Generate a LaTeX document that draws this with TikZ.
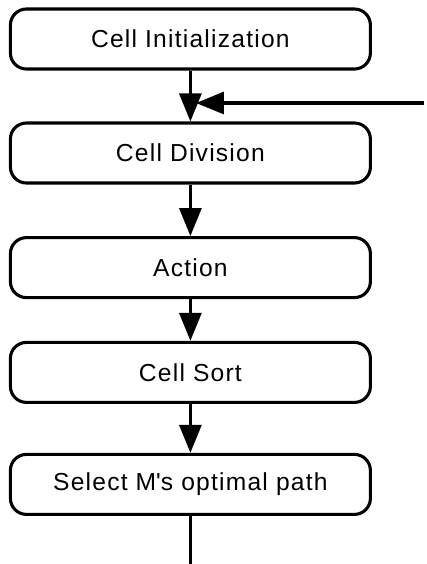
\documentclass[tikz,border=0pt]{standalone}
\usepackage{fontspec}
\setmainfont{Liberation Sans}[LetterSpace=5]
\usetikzlibrary{arrows.meta}
\tikzset{
  stage/.style={draw, line width=2.2pt, rounded corners=0.4cm, minimum width=9cm, minimum height=1.5cm, font=\fontsize{17.5}{20}\selectfont},
  flow/.style={line width=2.2pt, -{Triangle[length=0.7cm,width=0.55cm]}}
}

\begin{document}
\begin{tikzpicture}
  \useasboundingbox (0,0) rectangle (10.675,-14.1);
  \node[stage] (init) at (4.76,-0.975) {Cell Initialization};
  \node[stage] (divide) at (4.76,-3.825) {Cell Division};
  \node[stage] (act) at (4.76,-6.69) {Action};
  \node[stage] (sort) at (4.76,-9.31) {Cell Sort};
  \node[stage] (select) at (4.76,-12.11) {Select M\textquotesingle s optimal path};
  \coordinate (merge) at (4.9,-2.575);
  \coordinate (back) at (10.6,-2.575);
  \coordinate (out) at (4.76,-14.1);
  \draw[flow] (init) -- (divide);
  \draw[flow] (back) -- (merge);
  \draw[flow] (divide) -- (act);
  \draw[flow] (act) -- (sort);
  \draw[flow] (sort) -- (select);
  \draw[line width=2.2pt] (select) -- (out);
\end{tikzpicture}
\end{document}
